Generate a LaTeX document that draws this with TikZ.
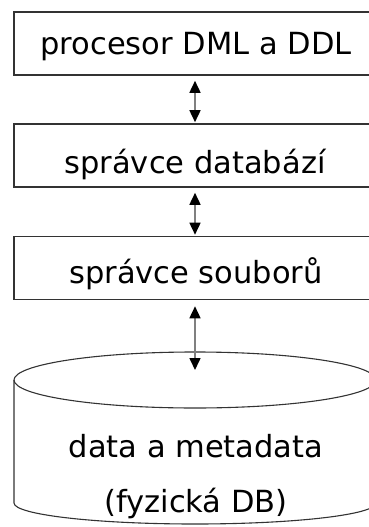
\documentclass[tikz,border=0pt]{standalone}
\usepackage{fontspec}
\setmainfont{DejaVu Sans}
\usetikzlibrary{arrows.meta}
\tikzset{
  layer/.style={draw=black!80, line width=1.6pt, minimum width=362pt, minimum height=63pt, inner sep=0pt},
  lbl/.style={font=\fontsize{30.5pt}{36pt}\selectfont, inner sep=0pt, anchor=base},
  link/.style={draw=black!50, line width=1.6pt, {Triangle[length=12pt,width=11pt,color=black]}-{Triangle[length=12pt,width=11pt,color=black]}},
  cyl/.style={draw=black!80, line width=1.1pt}
}
\begin{document}
\begin{tikzpicture}[x=1pt,y=-1pt]
\useasboundingbox (0,0) rectangle (369,527);
\clip (0,0) rectangle (369,527);
\node[layer] (b1) at (195,43.5) {};
\node[layer] (b2) at (195,155.5) {};
\node[layer] (b3) at (195,268) {};
\node[lbl] (t1) at (196,55) {procesor DML a DDL};
\node[lbl] (t2) at (195,173) {správce databází};
\node[lbl] (t3) at (196,283) {správce souborů};
% cylinder
\draw[cyl] (14,380) -- (14,503) arc[start angle=180, end angle=0, x radius=181, y radius=21] -- (376,380);
\draw[cyl] (195,380) ellipse[x radius=181, y radius=28];
\coordinate (db) at (195,370);
\node[lbl] (t4) at (196,457) {data a metadata};
\node[lbl] (t5) at (196,512) {(fyzická DB)};
% connectors
\draw[link, shorten <=5pt, shorten >=1pt] (b1.south) -- (b2.north);
\draw[link, shorten <=5pt, shorten >=1pt] (b2.south) -- (b3.north);
\draw[link, shorten <=6pt] (b3.south) -- (db);
\end{tikzpicture}
\end{document}
